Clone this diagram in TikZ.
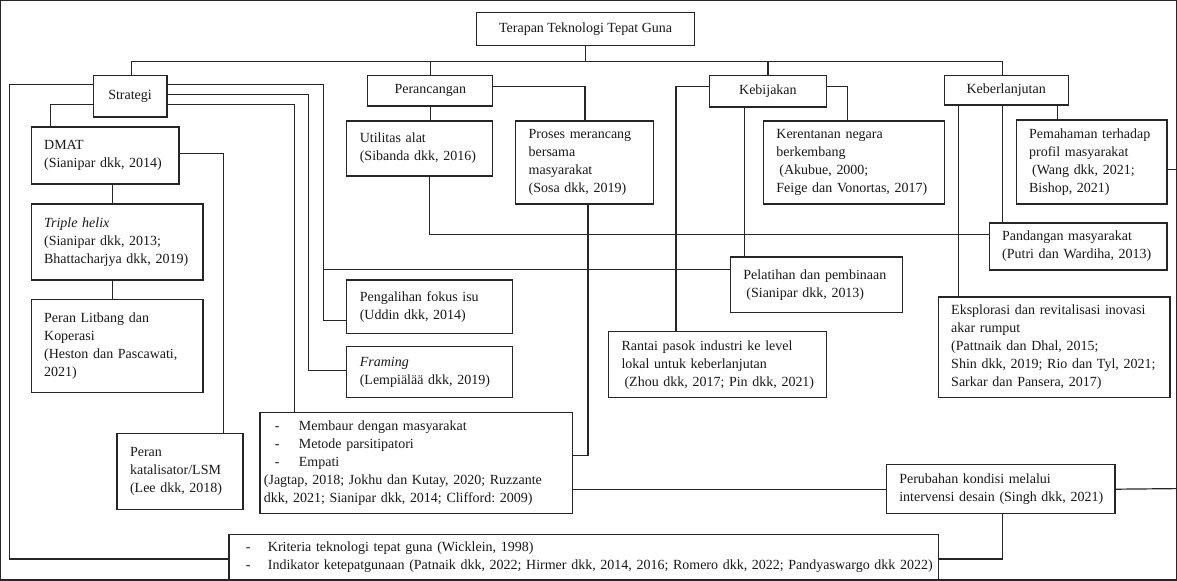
\documentclass[tikz,border=0pt]{standalone}
\usepackage{fontspec}
\setmainfont{Liberation Serif}
\usetikzlibrary{calc}
\frenchspacing
\begin{document}
\begin{tikzpicture}[x=1pt,y=-1pt,
  every path/.style={line width=1.2pt, draw=black!85},
  base/.style={draw=black!85, line width=1.2pt, anchor=north west, inner ysep=0pt,
    font=\fontsize{14}{18}\selectfont, text=black!90},
  cbox/.style={base, align=center, inner xsep=0pt},
  lbox/.style={base, align=left, inner xsep=0pt, execute at begin node={\leftskip=13pt\relax}},
  tbox/.style={base, align=left, inner xsep=0pt, execute at begin node={\leftskip=4pt\relax}}]
\fill[white] (0,0) rectangle (1177,580);
\useasboundingbox (0,0) rectangle (1177,580);

% level 0 / 1
\node[cbox, minimum width=218pt, minimum height=33pt] (top) at (476,11) {Terapan Teknologi Tepat Guna};
\node[cbox, minimum width=74pt, minimum height=42pt] (strat) at (92,74) {Strategi};
\node[cbox, minimum width=125pt, minimum height=31pt] (peran) at (367,74) {Perancangan};
\node[cbox, minimum width=117pt, minimum height=32pt] (kebij) at (709,74) {Kebijakan};
\node[cbox, minimum width=124pt, minimum height=30pt] (keber) at (944,74) {Keberlanjutan};

% Strategi column
\node[lbox, text width=148pt, minimum height=57pt] (dmat) at (30,126) {DMAT\\(Sianipar dkk, 2014)};
\node[lbox, text width=172pt, minimum height=76pt] (triple) at (30,203) {\textit{Triple helix}\\(Sianipar dkk, 2013;\\Bhattacharjya dkk, 2019)};
\node[lbox, text width=172pt, minimum height=93pt] (litbang) at (30,299) {Peran Litbang dan\\Koperasi\\(Heston dan Pascawati,\\2021)};
\node[lbox, text width=126pt, minimum height=76pt] (katal) at (116,433) {Peran\\katalisator/LSM\\(Lee dkk, 2018)};

% Perancangan column
\node[lbox, text width=146pt, minimum height=55pt] (util) at (346,120) {Utilitas alat\\(Sibanda dkk, 2016)};
\node[lbox, text width=138pt, minimum height=83pt] (proses) at (515,120) {Proses merancang\\bersama\\masyarakat\\(Sosa dkk, 2019)};
\node[lbox, text width=166pt, minimum height=54pt] (peng) at (346,279) {Pengalihan fokus isu\\(Uddin dkk, 2014)};
\node[lbox, text width=166pt, minimum height=51pt] (framing) at (346,346) {\textit{Framing}\\(Lempiälää dkk, 2019)};
\node[tbox, text width=313pt, minimum height=101pt] (membaur) at (259,412) {%
\hspace*{11pt}\makebox[24pt][l]{-}Membaur dengan masyarakat\\
\hspace*{11pt}\makebox[24pt][l]{-}Metode parsitipatori\\
\hspace*{11pt}\makebox[24pt][l]{-}Empati\\
(Jagtap, 2018; Jokhu dan Kutay, 2020; Ruzzante\\
dkk, 2021; Sianipar dkk, 2014; Clifford: 2009)};

% Kebijakan column
\node[lbox, text width=181pt, minimum height=83pt] (kerent) at (763,120) {Kerentanan negara\\berkembang\\\hspace*{3pt}(Akubue, 2000;\\Feige dan Vonortas, 2017)};
\node[lbox, text width=172pt, minimum height=56pt] (pelat) at (730,256) {Pelatihan dan pembinaan\\\hspace*{3pt}(Sianipar dkk, 2013)};
\node[lbox, text width=218pt, minimum height=66pt] (rantai) at (608,331) {Rantai pasok industri ke level\\lokal untuk keberlanjutan\\\hspace*{3pt}(Zhou dkk, 2017; Pin dkk, 2021)};

% Keberlanjutan column
\node[lbox, text width=151pt, minimum height=84pt] (pemah) at (1016,119) {Pemahaman terhadap\\profil masyarakat\\\hspace*{3pt}(Wang dkk, 2021;\\Bishop, 2021)};
\node[lbox, text width=178pt, minimum height=47pt] (pandang) at (989,222) {Pandangan masyarakat\\(Putri dan Wardiha, 2013)};
\node[lbox, text width=232pt, minimum height=101pt] (ekspl) at (938,296) {Eksplorasi dan revitalisasi inovasi\\akar rumput\\(Pattnaik dan Dhal, 2015;\\Shin dkk, 2019; Rio dan Tyl, 2021;\\Sarkar dan Pansera, 2017)};
\node[lbox, text width=229pt, minimum height=49pt] (perub) at (886,464) {Perubahan kondisi melalui\\intervensi desain (Singh dkk, 2021)};

% bottom
\node[tbox, text width=710pt, minimum height=45pt] (bottom) at (228,534) {%
\hspace*{13pt}\makebox[22pt][l]{-}Kriteria teknologi tepat guna (Wicklein, 1998)\\
\hspace*{13pt}\makebox[22pt][l]{-}Indikator ketepatgunaan (Patnaik dkk, 2022; Hirmer dkk, 2014, 2016; Romero dkk, 2022; Pandyaswargo dkk 2022)};

\coordinate (edgeA) at (1177,169);
\coordinate (edgeB) at (1177,488.5);

% connectors
\draw (top.south) -- (top.south |- 0,61);
\draw (strat.north -| 131,0) -- (131,61) -| (keber.north -| 1003,0);
\draw (peran.north) -- (peran.north |- 0,61);
\draw (kebij.north) -- (kebij.north |- 0,61);

\draw (strat.west |- 0,84) -- (9,84) -- (9,559) -- (bottom.west |- 0,559);
\draw (strat.west |- 0,104) -| (dmat.north west -| 50,0);
\draw (strat.east |- 0,84) -- (323,84) -- (323,320) -- (peng.west |- 0,320);
\draw (323,269) -- (pelat.west |- 0,269);
\draw (strat.east |- 0,94) -- (308,94) -- (308,370) -- (framing.west |- 0,370);
\draw (strat.east |- 0,104) -| (membaur.north -| 294,0);

\draw (dmat.south -| 112,0) -- (triple.north -| 112,0);
\draw (triple.south -| 112,0) -- (litbang.north -| 112,0);
\draw (dmat.east |- 0,153) -| (katal.north -| 223,0);

\draw (peran.south) -- (util.north -| peran.south);
\draw (peran.east |- 0,86) -| (proses.north -| 585,0);
\draw (util.south -| 429,0) -- (429,234) -- (pandang.west |- 0,234);
\draw (proses.south -| 588,0) -- (588,455) -- (membaur.east |- 0,455);
\draw (membaur.east |- perub.west) -- (perub.west);
\draw (perub.east) -- (edgeB);
\draw (perub.south -| 1003,0) -- (1003,559) -- (bottom.east |- 0,559);

\draw (kebij.west |- 0,86) -| (rantai.north -| 676,0);
\draw (kebij.south -| 745,0) -- (pelat.north -| 745,0);
\draw (kebij.east |- 0,86) -| (kerent.north -| 848,0);

\draw (keber.south -| 959,0) -- (ekspl.north -| 959,0);
\draw (keber.south -| 1003,0) -- (pandang.north -| 1003,0);
\draw (keber.south -| 1058,0) -- (pemah.north -| 1058,0);
\draw (pemah.east |- edgeA) -- (edgeA);
\end{tikzpicture}
\end{document}
